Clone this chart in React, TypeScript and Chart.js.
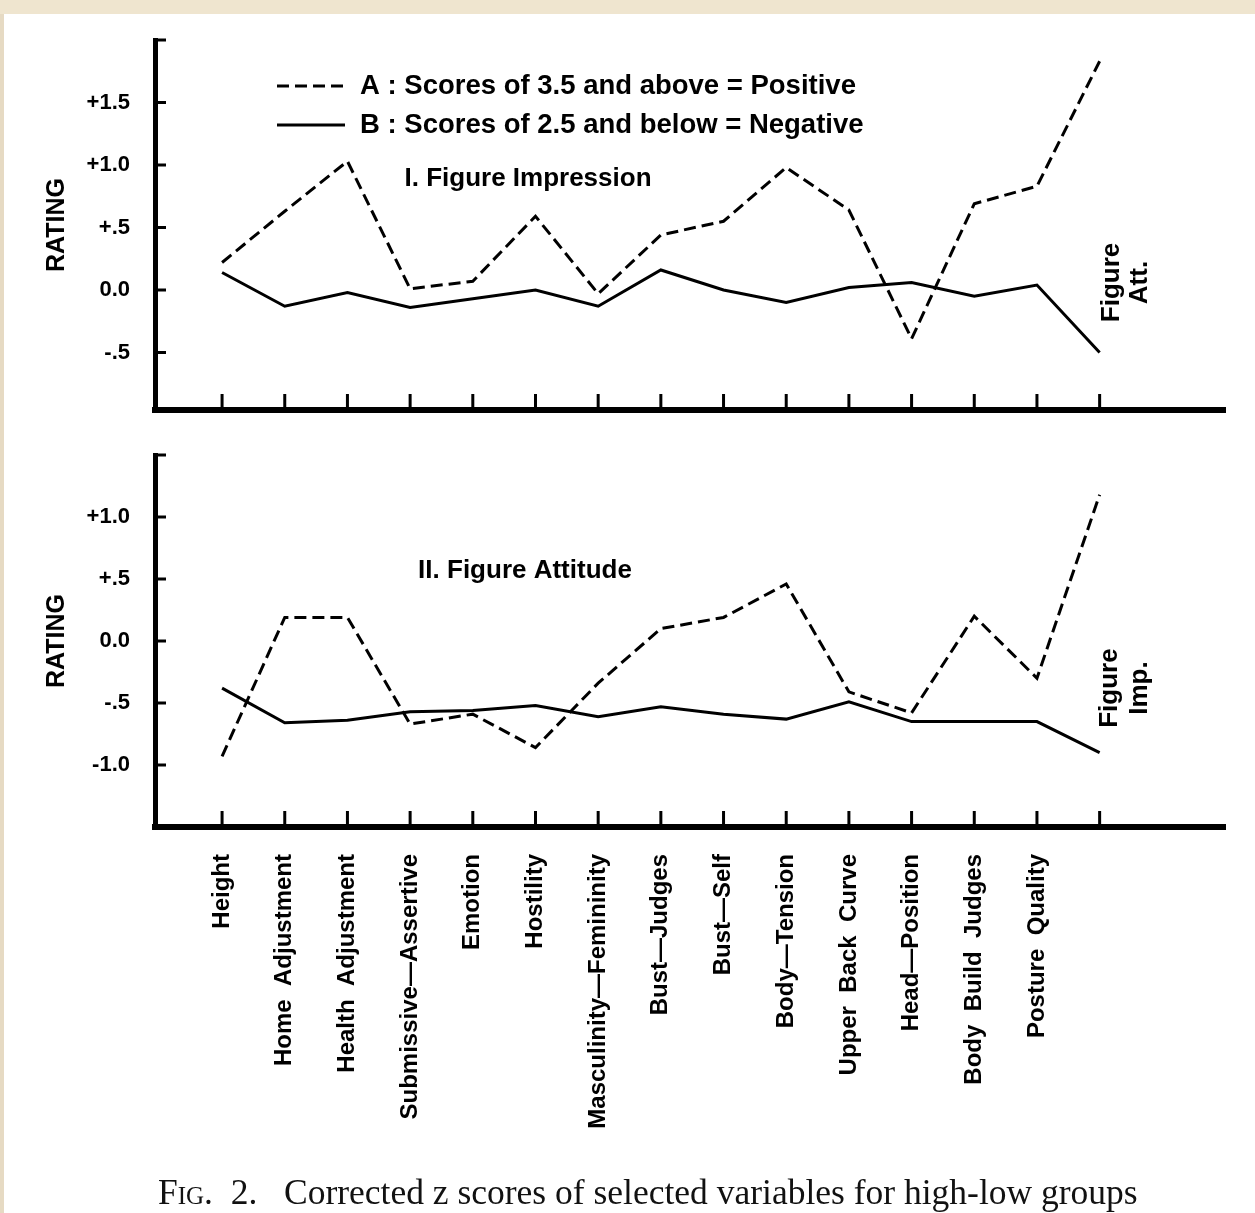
import React, { useEffect, useRef } from 'react';
import { Chart, registerables } from 'chart.js';

Chart.register(...registerables);

// ---------- data ----------
const categories = [
  'Height',
  'Home  Adjustment',
  'Health  Adjustment',
  'Submissive—Assertive',
  'Emotion',
  'Hostility',
  'Masculinity—Femininity',
  'Bust—Judges',
  'Bust—Self',
  'Body—Tension',
  'Upper  Back  Curve',
  'Head—Position',
  'Body  Build  Judges',
  'Posture  Quality',
  '',
];

const seriesLabelA = 'A : Scores of 3.5 and above = Positive';
const seriesLabelB = 'B : Scores of 2.5 and below = Negative';

// Panel I. Figure Impression
const impressionA = [0.22, 0.63, 1.03, 0.01, 0.07, 0.59, -0.03, 0.44, 0.55, 0.98, 0.64, -0.39, 0.69, 0.83, 1.83];
const impressionB = [0.14, -0.13, -0.02, -0.14, -0.07, 0.0, -0.13, 0.16, 0.0, -0.1, 0.02, 0.06, -0.05, 0.04, -0.5];
const impressionTickValues = [-0.5, 0, 0.5, 1, 1.5, 2];
const impressionTickLabels = ['-.5', '0.0', '+.5', '+1.0', '+1.5', ''];

// Panel II. Figure Attitude
const attitudeA = [-0.93, 0.19, 0.19, -0.67, -0.59, -0.86, -0.34, 0.1, 0.19, 0.46, -0.41, -0.58, 0.2, -0.3, 1.18];
const attitudeB = [-0.38, -0.66, -0.64, -0.57, -0.56, -0.52, -0.61, -0.53, -0.59, -0.63, -0.49, -0.65, -0.65, -0.65, -0.9];
const attitudeTickValues = [-1, -0.5, 0, 0.5, 1, 1.5];
const attitudeTickLabels = ['-1.0', '-.5', '0.0', '+.5', '+1.0', ''];

const SANS = "'Liberation Sans', Arial, sans-serif";

// ---------- decoration plugin (inward ticks, legend, titles, notes) ----------
const decorPlugin = {
  id: 'decor',
  afterDraw(chart: any, _args: any, opts: any) {
    const { ctx, chartArea } = chart;
    const xs = chart.scales.x;
    const ys = chart.scales.y;
    ctx.save();
    ctx.strokeStyle = '#000';
    ctx.fillStyle = '#000';
    ctx.setLineDash([]);
    ctx.lineWidth = 3;
    for (const v of opts.yTicks) {
      const y = ys.getPixelForValue(v);
      ctx.beginPath();
      ctx.moveTo(chartArea.left, y);
      ctx.lineTo(chartArea.left + 11, y);
      ctx.stroke();
    }
    for (let i = 0; i < categories.length; i++) {
      const x = xs.getPixelForValue(i);
      ctx.beginPath();
      ctx.moveTo(x, chartArea.bottom);
      ctx.lineTo(x, chartArea.bottom - 16);
      ctx.stroke();
    }

    // panel title
    ctx.font = `bold 26px ${SANS}`;
    ctx.textAlign = 'center';
    ctx.textBaseline = 'middle';
    ctx.fillText(opts.title.text, opts.title.x, opts.title.y);

    // legend
    if (opts.legend) {
      const L = opts.legend;
      chart.data.datasets.forEach((ds: any, k: number) => {
        const y = L.y + k * L.gap;
        ctx.lineWidth = 3;
        ctx.setLineDash(ds.borderDash || []);
        ctx.beginPath();
        ctx.moveTo(L.x1, y);
        ctx.lineTo(L.x2, y);
        ctx.stroke();
        ctx.setLineDash([]);
        ctx.font = `bold 27.5px ${SANS}`;
        ctx.textAlign = 'left';
        ctx.textBaseline = 'middle';
        ctx.fillText(ds.label, L.textX, y);
      });
    }

    // rotated note beside the last point
    if (opts.note) {
      const N = opts.note;
      const x0 = xs.getPixelForValue(categories.length - 1);
      const yc = ys.getPixelForValue(N.value);
      ctx.font = `bold 26px ${SANS}`;
      ctx.textAlign = 'center';
      ctx.textBaseline = 'middle';
      N.lines.forEach((t: string, k: number) => {
        ctx.save();
        ctx.translate(x0 + N.dx + k * N.lineGap, yc);
        ctx.rotate(-Math.PI / 2);
        ctx.fillText(t, 0, 0);
        ctx.restore();
      });
    }
    ctx.restore();
  },
};

function makeConfig(p: {
  a: number[];
  b: number[];
  yMin: number;
  yMax: number;
  tickValues: number[];
  tickLabels: string[];
  padTop: number;
  xHeight: number;
  showX: boolean;
  decor: any;
}) {
  const lineBase = {
    borderColor: '#000',
    borderWidth: 3,
    pointRadius: 0,
    fill: false,
    tension: 0,
    clip: false as any,
  };
  const zeroPad = (s: any) => {
    s.paddingTop = 0;
    s.paddingBottom = 0;
    s.paddingLeft = 0;
    s.paddingRight = 0;
  };
  return {
    type: 'line' as const,
    data: {
      datasets: [
        { ...lineBase, label: seriesLabelA, borderDash: [12, 6], data: p.a.map((y, i) => ({ x: i, y })) },
        { ...lineBase, label: seriesLabelB, data: p.b.map((y, i) => ({ x: i, y })) },
      ],
    },
    options: {
      animation: false as const,
      responsive: false,
      maintainAspectRatio: false,
      events: [],
      layout: { padding: { top: p.padTop, right: 30, left: 0, bottom: 0 } },
      plugins: {
        legend: { display: false },
        tooltip: { enabled: false },
        decor: p.decor,
      },
      scales: {
        x: {
          type: 'linear' as const,
          min: -1.07,
          max: 16,
          grid: { display: false, drawTicks: false },
          border: { display: true, color: '#000', width: 6 },
          ticks: {
            display: p.showX,
            autoSkip: false,
            maxRotation: 90,
            minRotation: 90,
            padding: 27,
            color: '#000',
            font: { family: SANS, size: 24, weight: 'bold' as const },
            callback: (v: any) => categories[Math.round(v)] ?? '',
          },
          afterBuildTicks: (s: any) => {
            s.ticks = categories.map((_, i) => ({ value: i }));
          },
          afterFit: (s: any) => {
            s.height = p.xHeight;
            zeroPad(s);
          },
        },
        y: {
          type: 'linear' as const,
          min: p.yMin,
          max: p.yMax,
          grid: { display: false, drawTicks: false },
          border: { display: true, color: '#000', width: 5 },
          ticks: {
            padding: 25,
            color: '#000',
            font: { family: SANS, size: 22, weight: 'bold' as const },
            callback: (v: any) => {
              const k = p.tickValues.findIndex((t) => Math.abs(t - v) < 1e-6);
              return k >= 0 ? p.tickLabels[k] : '';
            },
          },
          afterBuildTicks: (s: any) => {
            s.ticks = p.tickValues.map((v) => ({ value: v }));
          },
          afterFit: (s: any) => {
            s.width = 155;
            zeroPad(s);
          },
          title: {
            display: true,
            text: 'RATING',
            color: '#000',
            font: { family: SANS, size: 25, weight: 'bold' as const },
            padding: { top: 42, bottom: 0 },
          },
        },
      },
    },
    plugins: [decorPlugin],
  };
}

function Panel({ top, height, config }: { top: number; height: number; config: any }) {
  const ref = useRef<HTMLCanvasElement>(null);
  useEffect(() => {
    const chart = new Chart(ref.current as HTMLCanvasElement, config);
    return () => chart.destroy();
  }, []);
  return (
    <canvas
      ref={ref}
      width={1255}
      height={height}
      style={{ position: 'absolute', left: 0, top, width: 1255, height }}
    />
  );
}

export default function App() {
  const cfg1 = makeConfig({
    a: impressionA,
    b: impressionB,
    yMin: -0.96,
    yMax: 2,
    tickValues: impressionTickValues,
    tickLabels: impressionTickLabels,
    padTop: 40,
    xHeight: 30,
    showX: false,
    decor: {
      yTicks: impressionTickValues,
      title: { text: 'I. Figure Impression', x: 528, y: 179 },
      legend: { x1: 277, x2: 345, y: 86, gap: 39, textX: 360 },
      note: { lines: ['Figure', 'Att.'], value: 0.06, dx: 12, lineGap: 28 },
    },
  });
  const cfg2 = makeConfig({
    a: attitudeA,
    b: attitudeB,
    yMin: -1.5,
    yMax: 1.5,
    tickValues: attitudeTickValues,
    tickLabels: attitudeTickLabels,
    padTop: 15,
    xHeight: 386,
    showX: true,
    decor: {
      yTicks: attitudeTickValues,
      title: { text: 'II. Figure Attitude', x: 525, y: 571 - 440 },
      note: { lines: ['Figure', 'Imp.'], value: -0.38, dx: 10, lineGap: 30 },
    },
  });
  return (
    <div
      style={{
        position: 'absolute',
        left: 0,
        top: 0,
        width: 1255,
        height: 1213,
        background: '#ffffff',
        overflow: 'hidden',
      }}
    >
      <div style={{ position: 'absolute', left: 0, top: 0, width: 1255, height: 14, background: '#efe5cf' }} />
      <div style={{ position: 'absolute', left: 0, top: 14, width: 4, height: 1199, background: '#e6dac3' }} />
      <Panel top={0} height={440} config={cfg1} />
      <Panel top={440} height={773} config={cfg2} />
      <div
        style={{
          position: 'absolute',
          left: 0,
          width: 1300,
          top: 1172,
          textAlign: 'left',
          paddingLeft: 158,
          whiteSpace: 'nowrap',
          fontFamily: "'Liberation Serif', 'Times New Roman', serif",
          fontSize: 35.5,
          lineHeight: '40px',
          color: '#111',
        }}
      >
        <span style={{ fontVariant: 'small-caps' }}>Fig.</span>&nbsp;&nbsp;2.&nbsp;&nbsp;&nbsp;Corrected z scores of selected variables for high-low groups
      </div>
    </div>
  );
}
